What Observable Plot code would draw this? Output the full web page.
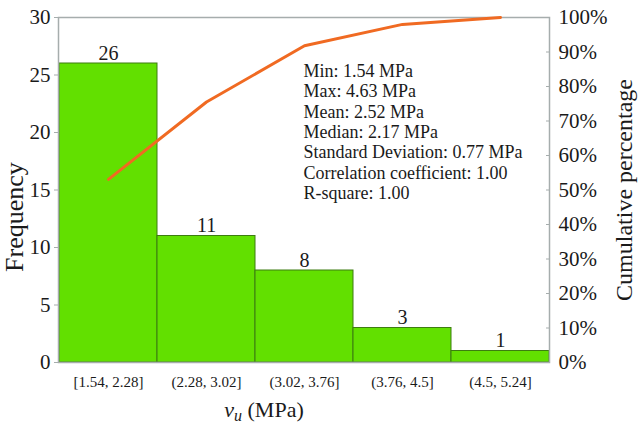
<!DOCTYPE html>
<html>
<head>
<meta charset="utf-8">
<script src="https://cdn.jsdelivr.net/npm/d3@7"></script>
<script src="https://cdn.jsdelivr.net/npm/@observablehq/plot@0.6"></script>
<style>
  html, body { margin: 0; padding: 0; background: #fff; }
  svg { display: block; }
  svg, svg text { font-family: "Liberation Serif", "Times New Roman", serif !important; }
</style>
</head>
<body>
<div id="chart"></div>
<script>
const bins = ["[1.54, 2.28]", "(2.28, 3.02]", "(3.02, 3.76]", "(3.76, 4.5]", "(4.5, 5.24]"];
const counts = [26, 11, 8, 3, 1];
const cumPct = [53.1, 75.5, 91.8, 98.0, 100];
const freqTicks = [0, 5, 10, 15, 20, 25, 30];
const pctTicks = [0, 10, 20, 30, 40, 50, 60, 70, 80, 90, 100];
const statsLines = [
  "Min: 1.54 MPa",
  "Max: 4.63 MPa",
  "Mean: 2.52 MPa",
  "Median: 2.17 MPa",
  "Standard Deviation: 0.77 MPa",
  "Correlation coefficient: 1.00",
  "R-square: 1.00"
];

const yMax = 30;
const bars = bins.map((b, i) => ({bin: b, count: counts[i]}));
const cum = bins.map((b, i) => ({bin: b, v: cumPct[i] / 100 * yMax}));

const serif = "Liberation Serif";

const chart = Plot.plot({
  width: 640,
  height: 428,
  marginLeft: 58,
  marginRight: 91,
  marginTop: 17,
  marginBottom: 66,
  style: {background: "#fff", color: "#1a1a1a"},
  x: {domain: bins, padding: 0, label: null},
  y: {domain: [0, yMax], label: null},
  marks: [
    Plot.barY(bars, {x: "bin", y: "count", fill: "#62e000", stroke: "#3d7d10", strokeWidth: 1, inset: 0}),
    Plot.frame({stroke: "#a6adad", strokeWidth: 1.5}),
    Plot.text(bars, {x: "bin", y: "count", text: d => String(d.count), dy: -4, lineAnchor: "bottom", fontSize: 20, fill: "#1a1a1a"}),
    Plot.line(cum, {x: "bin", y: "v", stroke: "#f06a22", strokeWidth: 3}),
    Plot.axisY({anchor: "left", ticks: freqTicks, tickSize: 4, tickPadding: 4, fontSize: 21, stroke: "#a6adad", label: null}),
    Plot.axisY({anchor: "right", ticks: pctTicks.map(p => p / 100 * yMax), tickSize: -4, tickPadding: 13,
      tickFormat: d => Math.round(d / yMax * 100) + "%", fontSize: 21, stroke: "#a6adad", label: null}),
    Plot.axisX({anchor: "bottom", tickSize: 0, tickPadding: 14, fontSize: 15, label: null}),
    Plot.text([statsLines.join("\n")], {frameAnchor: "top-left", dx: 245, dy: 45, lineHeight: 1.13, textAnchor: "start", lineAnchor: "top", fontSize: 18, fill: "#1a1a1a"}),
    Plot.text(["Frequency"], {frameAnchor: "left", dx: -44, dy: 27, rotate: -90, textAnchor: "middle", fontSize: 26, fill: "#1a1a1a"}),
    Plot.text(["Cumulative percentage"], {frameAnchor: "right", dx: 75, rotate: -90, textAnchor: "middle", fontSize: 24, fill: "#1a1a1a"})
  ]
});

document.getElementById("chart").appendChild(chart);

const svg = d3.select(chart);
// enforce tick label sizes
svg.selectAll('g[aria-label="y-axis tick label"]').attr("font-size", 21).selectAll("text").attr("font-size", 21);
svg.selectAll('g[aria-label="x-axis tick label"]').attr("font-size", 15).selectAll("text").attr("font-size", 15);

// x-axis title with italic variable and subscript
const t = svg.append("text")
  .attr("x", 264)
  .attr("y", 417)
  .attr("text-anchor", "middle")
  .attr("font-family", serif)
  .attr("font-size", 22)
  .attr("fill", "#1a1a1a");
t.append("tspan").attr("font-style", "italic").text("v");
t.append("tspan").attr("font-style", "italic").attr("font-size", 16).attr("dy", 4).text("u");
t.append("tspan").attr("dy", -4).text(" (MPa)");
</script>
</body>
</html>
